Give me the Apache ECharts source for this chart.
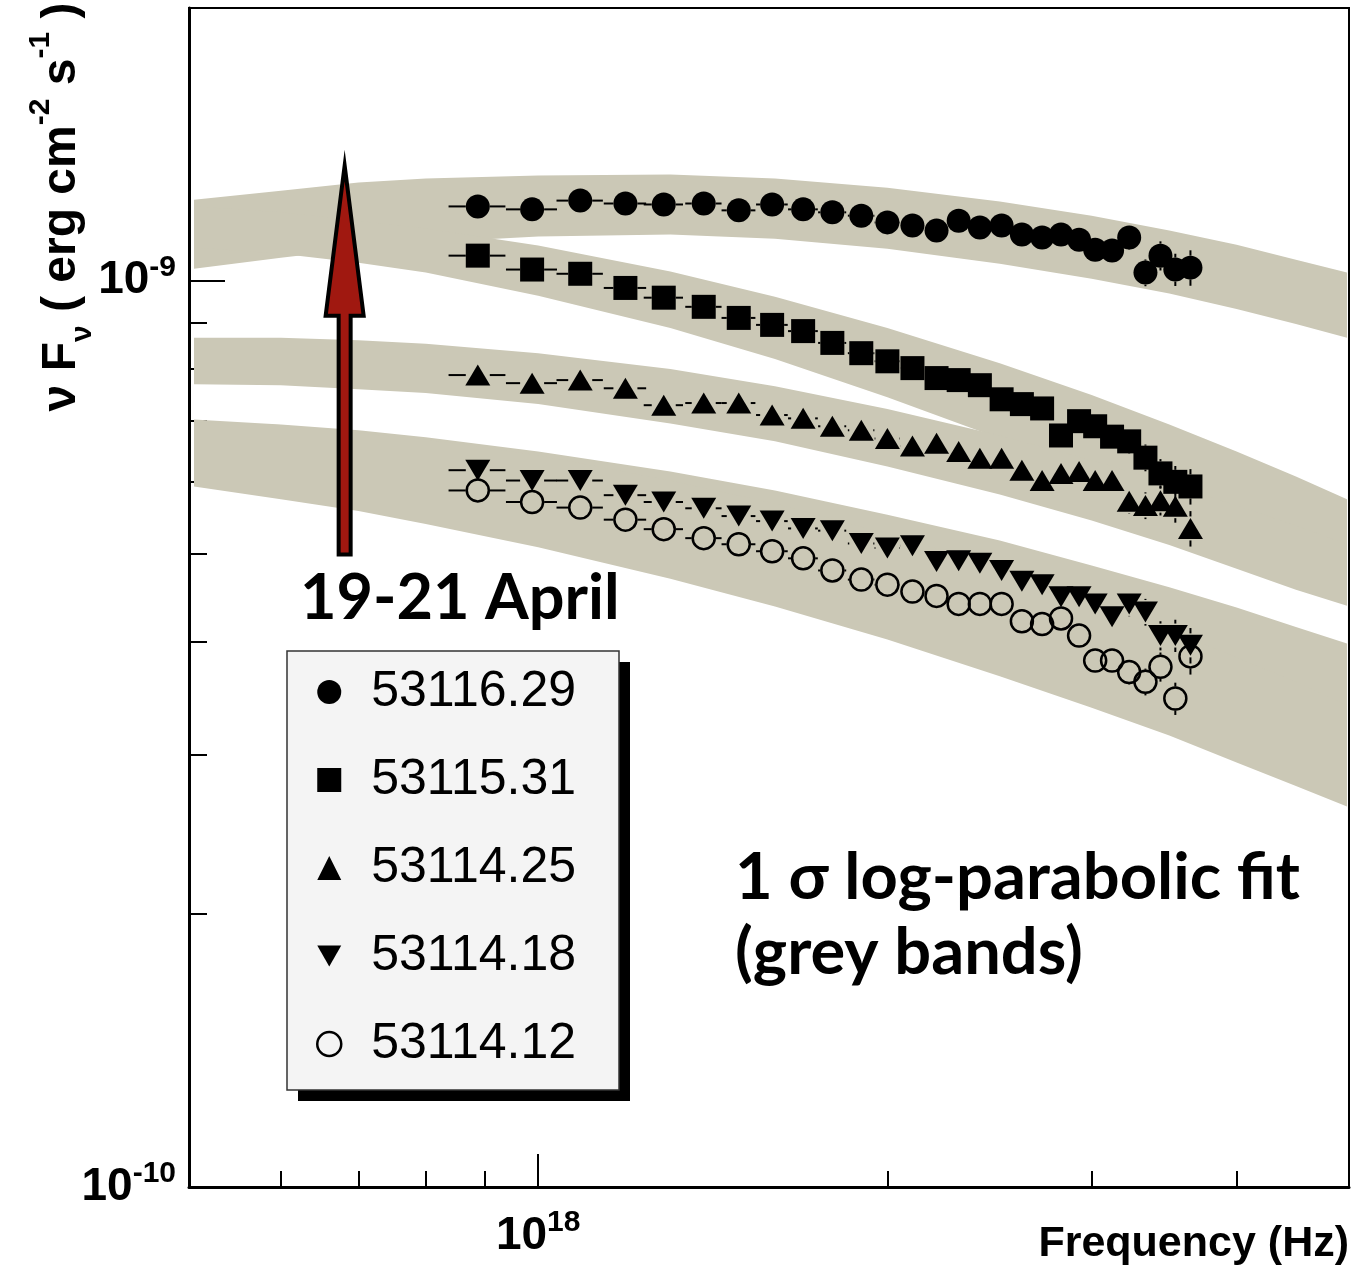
<!DOCTYPE html>
<html>
<head>
<meta charset="utf-8">
<title>nuFnu spectra 19-21 April</title>
<script src="https://cdn.jsdelivr.net/npm/echarts@6/dist/echarts.min.js"></script>
<style>
  html, body { margin: 0; padding: 0; background: #fff; }
  #main { width: 1361px; height: 1270px; }
</style>
</head>
<body>
<div id="main"></div>
<script>
// bin centres, 1e18 Hz
const binFreq = [0.887, 0.988, 1.087, 1.189, 1.283, 1.389, 1.489, 1.591, 1.692, 1.793, 1.899, 2.000, 2.102, 2.205,
  2.304, 2.403, 2.509, 2.612, 2.719, 2.823, 2.926, 3.021, 3.124, 3.232, 3.338, 3.439, 3.542, 3.650];
const binHalfWidth = 0.05;
// relative flux error of each bin
const relErr = [0.008, 0.008, 0.008, 0.008, 0.009, 0.009, 0.009, 0.010, 0.010, 0.011, 0.011, 0.012, 0.013, 0.014,
  0.015, 0.016, 0.017, 0.018, 0.020, 0.022, 0.024, 0.026, 0.028, 0.031, 0.034, 0.037, 0.041, 0.045];

// nuFnu, 1e-10 erg cm^-2 s^-1
const flux5311629 = [12.08, 11.99, 12.26, 12.17, 12.14, 12.17, 11.96, 12.14, 11.99, 11.90, 11.80, 11.60, 11.51, 11.36,
  11.65, 11.45, 11.51, 11.25, 11.16, 11.25, 11.10, 10.82, 10.80, 11.16, 10.21, 10.66, 10.29, 10.34];
const flux5311531 = [10.66, 10.29, 10.18, 9.82, 9.58, 9.36, 9.10, 8.94, 8.80, 8.54, 8.32, 8.15, 8.01, 7.81,
  7.77, 7.67, 7.40, 7.31, 7.23, 6.75, 7.00, 6.91, 6.73, 6.65, 6.38, 6.13, 6.00, 5.93];
const flux5311425 = [7.87, 7.71, 7.77, 7.61, 7.29, 7.33, 7.33, 7.11, 7.05, 6.91, 6.84, 6.70, 6.57, 6.62,
  6.48, 6.37, 6.37, 6.18, 6.02, 6.13, 6.16, 6.02, 6.02, 5.71, 5.65, 5.72, 5.64, 5.33];
const flux5311418 = [6.18, 6.02, 6.02, 5.80, 5.70, 5.61, 5.50, 5.43, 5.33, 5.30, 5.13, 5.07, 5.10, 4.90,
  4.91, 4.88, 4.79, 4.66, 4.62, 4.48, 4.48, 4.40, 4.26, 4.40, 4.31, 4.06, 4.06, 3.96];
const flux5311412 = [5.87, 5.70, 5.62, 5.45, 5.32, 5.20, 5.12, 5.03, 4.94, 4.79, 4.68, 4.62, 4.54, 4.49,
  4.40, 4.40, 4.40, 4.21, 4.18, 4.24, 4.06, 3.81, 3.81, 3.70, 3.61, 3.75, 3.46, 3.85];

// 1 sigma log-parabolic bands, edges read at these frequencies (1e18 Hz)
const bandFreq = [0.505, 0.6, 0.7, 0.8, 1.0, 1.3, 1.6, 2.0, 2.5, 3.0, 3.5, 4.0, 4.5, 4.98];
const band1Hi = [12.29, 12.57, 12.84, 12.97, 13.07, 13.10, 12.97, 12.67, 12.23, 11.80, 11.36, 10.96, 10.55, 10.21];
const band1Lo = [10.31, 10.60, 10.85, 11.02, 11.19, 11.25, 11.13, 10.85, 10.44, 10.05, 9.68, 9.31, 8.96, 8.65];
const band2Hi = [12.08, 11.90, 11.65, 11.42, 10.94, 10.24, 9.60, 8.87, 8.11, 7.48, 6.94, 6.48, 6.08, 5.74];
const band2Lo = [10.88, 10.71, 10.47, 10.21, 9.63, 8.87, 8.20, 7.44, 6.70, 6.13, 5.65, 5.25, 4.90, 4.61];
const band3Hi = [8.65, 8.65, 8.60, 8.52, 8.32, 7.99, 7.65, 7.22, 6.75, 6.34, 5.97, 5.65, 5.37, 5.12];
const band3Lo = [7.69, 7.67, 7.59, 7.52, 7.31, 6.96, 6.65, 6.24, 5.81, 5.44, 5.11, 4.81, 4.56, 4.38];
const band4Hi = [7.03, 6.94, 6.84, 6.72, 6.48, 6.16, 5.87, 5.52, 5.17, 4.85, 4.59, 4.36, 4.15, 3.98];
const band4Lo = [6.10, 6.05, 5.99, 5.91, 5.71, 5.40, 5.12, 4.77, 4.37, 4.04, 3.76, 3.50, 3.30, 3.11];
const band5Hi = [6.98, 6.93, 6.79, 6.68, 6.42, 6.02, 5.68, 5.26, 4.83, 4.45, 4.12, 3.84, 3.61, 3.40];
const band5Lo = [5.93, 5.74, 5.57, 5.39, 5.08, 4.69, 4.37, 4.02, 3.66, 3.38, 3.15, 2.94, 2.77, 2.63];

// arrow marking the 19-21 April flux rise: frequency, then bottom / head base / tip flux
const arrowFreq = 0.681;
const arrowFlux = [4.99, 9.15, 13.4];

const names = ['53116.29', '53115.31', '53114.25', '53114.18', '53114.12'];

const HZ = 1e18, FX = 1e-10;
const BAND = '#cbc8b6';
const SANS = '"Liberation Sans", Arial, Helvetica, sans-serif';
const MARK_R = 12; // error bars stop at the marker edge

function bandSeries(lo, hi) {
  return {
    type: 'custom', silent: true, z: 1,
    data: bandFreq.map((f, i) => [f * HZ, lo[i] * FX, hi[i] * FX]),
    encode: {x: 0, y: 1},
    renderItem(params, api) {
      if (params.dataIndex !== 0) return null;
      const up = bandFreq.map((f, i) => api.coord([f * HZ, hi[i] * FX]));
      const dn = bandFreq.map((f, i) => api.coord([f * HZ, lo[i] * FX])).reverse();
      return {type: 'polygon', shape: {points: up.concat(dn)}, style: {fill: BAND}};
    }
  };
}

function errSeries(flux) {
  return {
    type: 'custom', silent: true, z: 3,
    data: binFreq.map((f, i) => [f * HZ, flux[i] * FX, (f - binHalfWidth) * HZ, (f + binHalfWidth) * HZ,
      flux[i] * (1 - relErr[i]) * FX, flux[i] * (1 + relErr[i]) * FX]),
    encode: {x: 0, y: 1},
    renderItem(params, api) {
      const f = api.value(0), v = api.value(1);
      const c = api.coord([f, v]);
      const l = api.coord([api.value(2), v]), r = api.coord([api.value(3), v]);
      const b = api.coord([f, api.value(4)]), t = api.coord([f, api.value(5)]);
      const st = {stroke: '#000', lineWidth: 2};
      const segs = [];
      if (c[0] - MARK_R > l[0]) segs.push([l[0], c[1], c[0] - MARK_R, c[1]]);
      if (r[0] > c[0] + MARK_R) segs.push([c[0] + MARK_R, c[1], r[0], c[1]]);
      if (c[1] - MARK_R > t[1]) segs.push([c[0], t[1], c[0], c[1] - MARK_R]);
      if (b[1] > c[1] + MARK_R) segs.push([c[0], c[1] + MARK_R, c[0], b[1]]);
      return {type: 'group', children: segs.map(s => ({
        type: 'line', shape: {x1: s[0], y1: s[1], x2: s[2], y2: s[3]}, style: st
      }))};
    }
  };
}

function pointSeries(name, flux, symbol, size, extra) {
  return Object.assign({
    name: name, type: 'scatter', z: 4, silent: true,
    symbol: symbol, symbolSize: size,
    itemStyle: {color: '#000', opacity: 1},
    data: binFreq.map((f, i) => [f * HZ, flux[i] * FX])
  }, extra || {});
}

function expLabel(v) {
  return '{b|10}{s|' + Math.round(Math.log10(v)) + '}';
}
const labelRich = {
  b: {fontSize: 46, fontWeight: 'bold', fontFamily: SANS, color: '#000', lineHeight: 56},
  s: {fontSize: 30, fontWeight: 'bold', fontFamily: SANS, color: '#000', lineHeight: 26, verticalAlign: 'top'}
};

const xRange = {type: 'log', logBase: 10, min: 5e17, max: 5e18, gridIndex: 0, position: 'bottom'};
const yRange = {type: 'log', logBase: 10, min: 1e-10, max: 2e-9, gridIndex: 0, position: 'left'};

const DOWN_TRI = 'path://M0,0L24,0L12,21Z';

const chart = echarts.init(document.getElementById('main'));
chart.setOption({
  animation: false,
  backgroundColor: '#fff',
  grid: {left: 189, right: 12, top: 8, bottom: 83, show: true, borderColor: '#000', borderWidth: 2,
    backgroundColor: 'transparent', containLabel: false, outerBoundsMode: 'none'},
  xAxis: [
    Object.assign({}, xRange, {
      axisLine: {show: true, lineStyle: {color: '#000', width: 3}},
      axisTick: {show: true, inside: true, length: 16, lineStyle: {color: '#000', width: 2},
        customValues: [6e17, 7e17, 8e17, 9e17, 2e18, 3e18, 4e18]},
      axisLabel: {show: false}, splitLine: {show: false}
    }),
    Object.assign({}, xRange, {
      axisLine: {show: false},
      axisTick: {show: true, inside: true, length: 33, lineStyle: {color: '#000', width: 2}, customValues: [1e18]},
      axisLabel: {show: true, margin: 21, customValues: [1e18], formatter: expLabel, rich: labelRich},
      splitLine: {show: false}
    })
  ],
  yAxis: [
    Object.assign({}, yRange, {
      axisLine: {show: true, lineStyle: {color: '#000', width: 3}},
      axisTick: {show: true, inside: true, length: 18, lineStyle: {color: '#000', width: 2},
        customValues: [2e-10, 3e-10, 4e-10, 5e-10, 6e-10, 7e-10, 8e-10, 9e-10]},
      axisLabel: {show: false}, splitLine: {show: false}
    }),
    Object.assign({}, yRange, {
      axisLine: {show: false},
      axisTick: {show: true, inside: true, length: 36, lineStyle: {color: '#000', width: 2}, customValues: [1e-9]},
      axisLabel: {show: true, margin: 13, customValues: [1e-10, 1e-9], formatter: expLabel, rich: labelRich},
      splitLine: {show: false}
    })
  ],
  legend: {
    orient: 'vertical', left: 287, top: 651,
    selectedMode: false,
    itemWidth: 24, itemHeight: 24, itemGap: 38,
    padding: [16, 42, 22, 29],
    backgroundColor: 'transparent', borderWidth: 0,
    textStyle: {fontFamily: SANS, fontSize: 50, color: '#000', lineHeight: 50, padding: [0, 0, 0, 25]},
    data: [
      {name: names[0]}, {name: names[1]}, {name: names[2]},
      {name: names[3], icon: DOWN_TRI},
      {name: names[4], itemStyle: {color: 'rgba(0,0,0,0)', borderColor: '#000', borderWidth: 2.5}}
    ]
  },
  graphic: [
    // legend frame with its drop shadow
    {type: 'rect', z: 3, silent: true, shape: {x: 298, y: 662, width: 332, height: 439}, style: {fill: '#000'}},
    {type: 'rect', z: 3, silent: true, shape: {x: 287, y: 651, width: 332, height: 439},
      style: {fill: '#f4f4f4', stroke: '#333', lineWidth: 1.5}},
    {type: 'text', x: 62, y: 207, rotation: Math.PI / 2, silent: true,
      style: {
        text: 'ν F{sub|ν} ( erg cm{sup|-2} s{sup|-1} )',
        fontSize: 48, fontWeight: 'bold', fontFamily: SANS, fill: '#000', lineHeight: 72,
        align: 'center', verticalAlign: 'middle', textAlign: 'center', textVerticalAlign: 'middle',
        rich: {
          sub: {fontSize: 30, fontWeight: 'bold', fontFamily: SANS, lineHeight: 60, verticalAlign: 'bottom'},
          sup: {fontSize: 30, fontWeight: 'bold', fontFamily: SANS, lineHeight: 20, verticalAlign: 'top'}
        }
      }},
    {type: 'text', x: 1349, y: 1244, silent: true,
      style: {text: 'Frequency (Hz)', fontSize: 43, fontWeight: 'bold', fontFamily: SANS, fill: '#000',
        align: 'right', verticalAlign: 'middle', textAlign: 'right', textVerticalAlign: 'middle'}},
    {type: 'text', x: 300, y: 599, silent: true,
      style: {text: '19-21 April', fontSize: 63, fontWeight: 'bold', fontFamily: 'Lato, sans-serif', fill: '#000',
        align: 'left', verticalAlign: 'middle', textAlign: 'left', textVerticalAlign: 'middle'}},
    {type: 'text', x: 735, y: 878, silent: true,
      style: {text: '1 σ log-parabolic fit', fontSize: 65, fontWeight: 'bold', fontFamily: 'Lato, sans-serif', fill: '#000',
        align: 'left', verticalAlign: 'middle', textAlign: 'left', textVerticalAlign: 'middle'}},
    {type: 'text', x: 735, y: 953, silent: true,
      style: {text: '(grey bands)', fontSize: 65, fontWeight: 'bold', fontFamily: 'Lato, sans-serif', fill: '#000',
        align: 'left', verticalAlign: 'middle', textAlign: 'left', textVerticalAlign: 'middle'}}
  ],
  series: [
    bandSeries(band1Lo, band1Hi),
    bandSeries(band2Lo, band2Hi),
    bandSeries(band3Lo, band3Hi),
    bandSeries(band4Lo, band4Hi),
    bandSeries(band5Lo, band5Hi),
    {
      type: 'custom', silent: true, z: 3,
      data: [[arrowFreq * HZ, arrowFlux[0] * FX, arrowFlux[1] * FX, arrowFlux[2] * FX]],
      encode: {x: 0, y: 1},
      renderItem(params, api) {
        const f = api.value(0);
        const base = api.coord([f, api.value(1)]);
        const neck = api.coord([f, api.value(2)]);
        const tip = api.coord([f, api.value(3)]);
        const sw = 6, hw = 19;
        return {type: 'polygon', shape: {points: [
          [tip[0], tip[1]], [neck[0] + hw, neck[1]], [neck[0] + sw, neck[1]], [base[0] + sw, base[1]],
          [base[0] - sw, base[1]], [neck[0] - sw, neck[1]], [neck[0] - hw, neck[1]]
        ]}, style: {fill: '#a01810', stroke: '#000', lineWidth: 4, lineJoin: 'miter', miterLimit: 12}};
      }
    },
    errSeries(flux5311629),
    errSeries(flux5311531),
    errSeries(flux5311425),
    errSeries(flux5311418),
    errSeries(flux5311412),
    pointSeries(names[0], flux5311629, 'circle', 24),
    pointSeries(names[1], flux5311531, 'rect', 24),
    pointSeries(names[2], flux5311425, 'triangle', [25, 21]),
    pointSeries(names[3], flux5311418, 'triangle', [25, 21], {symbolRotate: 180}),
    pointSeries(names[4], flux5311412, 'circle', 22,
      {itemStyle: {color: 'rgba(0,0,0,0)', borderColor: '#000', borderWidth: 2.5, opacity: 1}})
  ]
});
</script>
</body>
</html>
